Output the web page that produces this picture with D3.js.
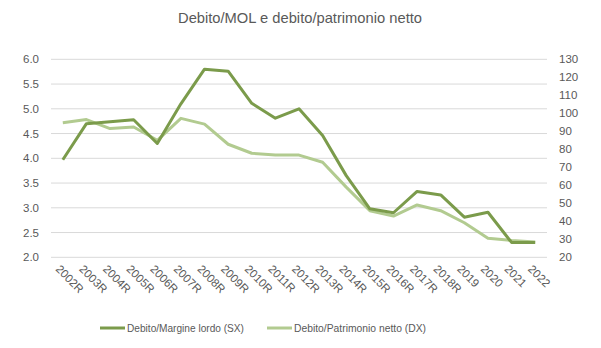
<!DOCTYPE html>
<html><head><meta charset="utf-8">
<script src="https://cdn.jsdelivr.net/npm/d3@7"></script>
<style>body{margin:0;background:#fff;}svg{display:block;}</style>
</head><body>
<svg id="chart" width="601" height="348"></svg>
<script>
const categories = ["2002R","2003R","2004R","2005R","2006R","2007R","2008R","2009R","2010R","2011R","2012R","2013R","2014R","2015R","2016R","2017R","2018R","2019","2020","2021","2022"];
const debitoMol = [3.97,4.70,4.74,4.78,4.30,5.10,5.80,5.76,5.11,4.81,5.00,4.46,3.65,2.98,2.90,3.33,3.26,2.81,2.91,2.30,2.30];
const debitoPatrimonio = [94.8,96.5,91.5,92.4,85.0,97.2,94.0,82.8,77.8,76.8,76.8,72.8,59.0,45.9,42.9,49.1,45.9,39.2,30.6,29.4,28.5];
const leftTicks = [2.0,2.5,3.0,3.5,4.0,4.5,5.0,5.5,6.0];
const rightTicks = [20,30,40,50,60,70,80,90,100,110,120,130];
const seriesNames = ["Debito/Margine lordo (SX)","Debito/Patrimonio netto (DX)"];
const title = "Debito/MOL e debito/patrimonio netto";

const colDark = "#7b9b4b", colLight = "#b2cb90", textCol = "#595959", gridCol = "#d9d9d9";
const font = "'Liberation Sans', Arial, sans-serif";
const svg = d3.select("#chart");
const m = {l:51, r:547, t:59.3, b:257.3};

const x = d3.scaleBand().domain(categories).range([m.l, m.r]);
const yL = d3.scaleLinear().domain([2,6]).range([m.b, m.t]);
const yR = d3.scaleLinear().domain([20,130]).range([m.b, m.t]);

svg.append("text").attr("x",300).attr("y",23).attr("text-anchor","middle")
  .attr("font-family",font).attr("font-size",14.5).attr("fill",textCol)
  .attr("textLength",244).attr("lengthAdjust","spacingAndGlyphs").text(title);

// gridlines
svg.append("g").selectAll("line").data(leftTicks).join("line")
  .attr("x1",m.l).attr("x2",m.r).attr("y1",d=>yL(d)).attr("y2",d=>yL(d))
  .attr("stroke",gridCol).attr("stroke-width",1);

// left axis
const axL = d3.axisLeft(yL).tickValues(leftTicks).tickFormat(d3.format(".1f")).tickSize(0).tickPadding(12);
const gL = svg.append("g").attr("transform",`translate(${m.l},0)`).call(axL);
gL.select(".domain").remove();
gL.selectAll("text").attr("font-family",font).attr("font-size",11.5).attr("fill",textCol);

// right axis
const axR = d3.axisRight(yR).tickValues(rightTicks).tickSize(0).tickPadding(12);
const gR = svg.append("g").attr("transform",`translate(${m.r},0)`).call(axR);
gR.select(".domain").remove();
gR.selectAll("text").attr("font-family",font).attr("font-size",11.5).attr("fill",textCol);

// x labels
const cx = d => x(d) + x.bandwidth()/2;
svg.append("g").selectAll("text").data(categories).join("text")
  .attr("transform",d=>`translate(${cx(d)-5},${267}) rotate(45)`)
  .attr("text-anchor","start").attr("dy","0.35em")
  .attr("font-family",font).attr("font-size",11.5).attr("fill",textCol).text(d=>d);

// lines
const lineL = d3.line().x((d,i)=>cx(categories[i])).y(d=>yL(d));
const lineR = d3.line().x((d,i)=>cx(categories[i])).y(d=>yR(d));
svg.append("path").datum(debitoPatrimonio).attr("d",lineR).attr("fill","none")
  .attr("stroke",colLight).attr("stroke-width",3).attr("stroke-linejoin","round");
svg.append("path").datum(debitoMol).attr("d",lineL).attr("fill","none")
  .attr("stroke",colDark).attr("stroke-width",3).attr("stroke-linejoin","round");

// legend
const leg = [{name:seriesNames[0],c:colDark,x:100,w:117},{name:seriesNames[1],c:colLight,x:267,w:132}];
const lg = svg.append("g").selectAll("g").data(leg).join("g").attr("transform",d=>`translate(${d.x},328)`);
lg.append("line").attr("x1",0).attr("x2",25).attr("stroke",d=>d.c).attr("stroke-width",3);
lg.append("text").attr("x",27).attr("dy","0.35em").attr("font-family",font).attr("font-size",11)
  .attr("textLength",d=>d.w).attr("lengthAdjust","spacingAndGlyphs")
  .attr("fill",textCol).text(d=>d.name);
</script>
</body></html>
